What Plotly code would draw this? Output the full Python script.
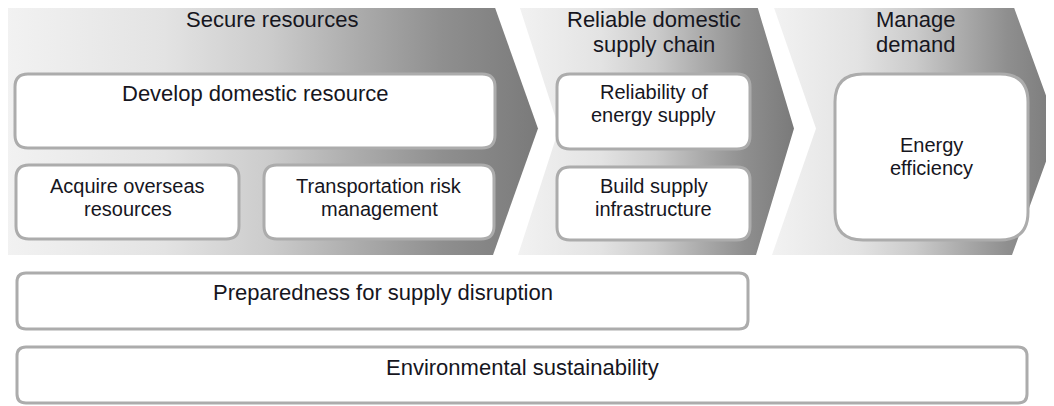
import plotly.graph_objects as go

W, H = 1054, 406
PAGE_MARGIN = 8  # browser body margin around the plot div

# ---- stages (chevrons) ----
stage_titles = [["Secure resources"], ["Reliable domestic", "supply chain"], ["Manage", "demand"]]
stage_left = [5, 518, 772]
stage_right = [493, 756, 1012]
stage_notch = [0, 41, 44]
stage_tip = [45, 38, 46]
stage_top, stage_bottom = 2, 255
title_x = [272, 654, 916]
title_y = [19, 19, 19]
title_dy = 25

# ---- boxes ----
box_labels = [
    ["Develop domestic resource"],
    ["Acquire overseas", "resources"],
    ["Transportation risk", "management"],
    ["Reliability of", "energy supply"],
    ["Build supply", "infrastructure"],
    ["Energy", "efficiency"],
    ["Preparedness for supply disruption"],
    ["Environmental sustainability"],
]
box_x0 = [15, 16, 264, 557, 557, 835, 17, 17]
box_x1 = [495, 239, 494, 750, 750, 1028, 748, 1027]
box_y0 = [74, 165, 165, 74, 167, 74, 273, 347]
box_y1 = [148, 239, 239, 149, 240, 240, 329, 403]
box_r = [13, 13, 13, 13, 13, 28, 9, 9]
box_text_y = [93, 186, 186, 92, 186, 145, 292, 367]
line_dy = 23

grad = [[0.0, "#f2f2f2"], [0.3, "#e3e3e3"], [0.5, "#cbcbcb"],
        [0.66, "#acacac"], [0.82, "#8f8f8f"], [1.0, "#7a7a7a"]]

FONT = "Liberation Sans, Arial, sans-serif"
TXT = "#16161e"

fig = go.Figure()

for i in range(len(stage_titles)):
    L, R = stage_left[i], stage_right[i]
    mid = (stage_top + stage_bottom) / 2
    xs = [L, R, R + stage_tip[i], R, L, L + stage_notch[i], L]
    ys = [stage_top, stage_top, mid, stage_bottom, stage_bottom, mid, stage_top]
    fig.add_trace(go.Scatter(
        x=xs, y=ys, mode="lines", fill="toself",
        line=dict(width=0, color="rgba(0,0,0,0)"),
        fillgradient=dict(type="horizontal", colorscale=grad),
        hoverinfo="skip", showlegend=False))
    for k, t in enumerate(stage_titles[i]):
        fig.add_annotation(x=title_x[i], y=title_y[i] + k * title_dy, text=t,
                           showarrow=False, xanchor="center", yanchor="middle",
                           font=dict(family=FONT, size=22, color=TXT))


def rounded(x0, y0, x1, y1, r):
    return (f"M {x0+r},{y0} L {x1-r},{y0} Q {x1},{y0} {x1},{y0+r} "
            f"L {x1},{y1-r} Q {x1},{y1} {x1-r},{y1} L {x0+r},{y1} "
            f"Q {x0},{y1} {x0},{y1-r} L {x0},{y0+r} Q {x0},{y0} {x0+r},{y0} Z")


for i, lab in enumerate(box_labels):
    fig.add_shape(type="path", xref="x", yref="y",
                  path=rounded(box_x0[i], box_y0[i], box_x1[i], box_y1[i], box_r[i]),
                  fillcolor="white", line=dict(color="#acacac", width=3))
    cx = (box_x0[i] + box_x1[i]) / 2
    size = 22 if len(lab) == 1 else 20
    for k, t in enumerate(lab):
        fig.add_annotation(x=cx, y=box_text_y[i] + k * line_dy, text=t,
                           showarrow=False, xanchor="center", yanchor="middle",
                           font=dict(family=FONT, size=size, color=TXT))

fig.update_layout(
    width=W - PAGE_MARGIN, height=H - PAGE_MARGIN,
    margin=dict(l=0, r=0, t=0, b=0, pad=0),
    paper_bgcolor="white", plot_bgcolor="white",
    xaxis=dict(range=[PAGE_MARGIN, W], visible=False, fixedrange=True),
    yaxis=dict(range=[H, PAGE_MARGIN], visible=False, fixedrange=True),
)

fig.write_html("out.html")
